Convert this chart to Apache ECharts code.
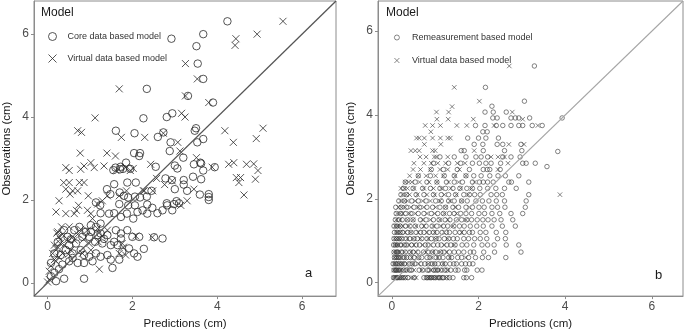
<!DOCTYPE html>
<html>
<head>
<meta charset="utf-8">
<script src="https://cdn.jsdelivr.net/npm/echarts@6/dist/echarts.min.js"></script>
<style>
  html, body { margin: 0; padding: 0; background: #fff; }
  #chart { width: 685px; height: 335px; }
</style>
</head>
<body>
<div id="chart"></div>
<script>
// axis settings
var axisMinA = -0.32, axisMaxA = 6.8;
var axisMinB = -0.32, axisMaxB = 6.72;
var tickValues = [0, 2, 4, 6];

// panel a: core data based model (circles)
var coreData = [
  [4.24,6.31],[2.92,5.89],[3.67,6.0],[3.51,5.71],[3.54,5.29],[3.67,4.92],[2.34,4.68],[3.31,4.51],[3.90,4.35],
  [2.26,3.97],[2.81,4.0],[2.94,4.09],[1.61,3.67],[2.05,3.61],[2.6,3.52],[2.73,3.63],[3.47,3.67],[3.5,3.73],
  [3.67,3.47],[3.53,3.39],[2.9,3.39],[2.04,3.13],[2.18,3.13],[2.16,3.06],[2.88,3.18],[3.2,3.02],
  [2.55,2.8],[3.0,2.83],[3.06,2.76],[3.45,2.86],[3.6,2.9],[3.62,2.88],[3.67,2.71],[3.94,2.79],
  [2.78,2.52],[2.93,2.48],[3.21,2.48],[3.21,2.37],[3.43,2.56],[3.62,2.5],[3.0,2.26],[3.29,2.22],[3.59,2.13],
  [3.8,2.14],[3.8,2.07],[3.8,2.0],[2.45,2.22],[2.34,2.08],[2.81,1.92],[2.98,1.9],[3.1,1.92],[2.35,1.89],
  [1.85,2.9],[1.72,2.8],[1.6,2.78],[1.78,2.75],[1.55,2.72],[1.95,2.75],[1.71,2.74],
  [1.57,2.38],[1.88,2.42],[2.08,2.42],[1.4,2.26],[1.48,2.14],[1.7,2.18],[1.8,2.1],[1.9,2.06],[2.06,2.08],[2.18,2.06],
  [1.69,1.9],[1.9,1.87],[2.06,1.87],[2.24,1.75],[2.35,1.67],[2.47,1.81],[2.59,1.68],[2.71,1.75],[2.82,1.87],[2.94,1.75],[3.04,1.97],
  [1.25,1.68],[1.45,1.67],[1.57,1.68],[1.73,1.59],[1.87,1.67],[2.02,1.55],[2.12,1.71],[1.14,1.94],[1.24,1.87],
  [1.02,1.39],[1.14,1.35],[1.25,1.19],[1.41,1.15],[1.61,1.27],[1.73,1.19],[1.88,1.27],[2.0,1.11],[2.16,1.11],
  [2.71,1.07],[2.51,1.1],[0.98,1.11],[0.82,1.11],[1.12,0.99],[1.29,0.95],[1.49,0.91],[1.65,0.91],[1.76,0.75],
  [1.92,0.83],[2.04,0.71],[2.27,0.82],[2.12,0.63],[0.78,0.79],[0.86,0.67],[0.98,0.63],[1.14,0.71],[1.25,0.63],
  [1.41,0.67],[1.69,0.56],[1.49,0.56],[0.59,0.6],[0.71,0.48],[0.86,0.48],[1.06,0.52],[1.53,0.36],[0.16,0.24],
  [0.2,0.04],[0.39,0.1],[0.86,0.1],[0.27,0.33],[0.35,0.44],[0.51,0.52],[0.59,0.71],[0.43,0.79],[0.31,0.67],
  [0.51,0.91],[0.67,0.95],[0.47,1.11],[0.24,0.99],[0.39,1.27],[0.63,1.27],[0.75,1.35],[0.9,1.23],[0.16,0.71],
  [0.08,0.48],[0.08,0.16],[1.25,1.43],[1.57,0.99],[1.73,1.07],[1.33,1.06],[1.02,1.23],[1.18,1.15],[0.55,1.05]
];

// panel a: virtual data based model (crosses)
var virtualDataA = [
  [5.55,6.31],[4.44,5.89],[4.94,6.0],[4.42,5.73],[3.25,5.29],[3.53,4.92],[1.69,4.68],[3.25,4.51],[3.80,4.35],
  [1.12,3.98],[3.16,4.09],[3.24,4.0],[0.71,3.67],[0.80,3.63],[1.74,3.51],[2.29,3.51],[2.73,3.61],[4.18,3.67],
  [4.38,3.39],[5.08,3.73],[4.92,3.48],[0.77,3.13],[1.40,3.13],[1.60,3.06],[3.12,3.18],[3.51,3.02],[3.07,3.39],
  [4.27,2.86],[4.39,2.9],[4.69,2.86],[4.86,2.87],[4.96,2.71],[4.45,2.54],[4.55,2.54],[4.51,2.42],[4.9,2.5],
  [4.63,2.12],[2.43,2.86],[2.57,2.52],[2.76,2.37],[2.94,2.46],[3.45,2.26],[2.48,2.22],[2.26,2.22],[3.14,1.87],
  [3.29,1.98],[3.88,2.79],
  [0.43,2.78],[0.51,2.71],[0.78,2.74],[0.86,2.82],[1.02,2.9],[1.1,2.78],[1.33,2.82],[1.61,2.71],[1.84,2.78],
  [1.95,2.71],[2.02,2.76],[0.38,2.42],[0.51,2.42],[0.75,2.42],[0.86,2.42],[0.43,2.26],[0.59,2.22],[0.71,2.22],
  [0.53,2.14],[0.27,1.98],[0.2,1.71],[0.43,1.67],[0.63,1.67],[0.73,1.87],[0.68,1.75],[0.94,1.75],[1.02,1.67],
  [0.96,2.1],[1.18,1.9],[1.29,1.98],[1.41,2.1],[1.69,2.1],[1.86,2.22],[2.28,2.22],[1.06,1.55],[0.51,1.35],
  [0.24,1.23],[0.35,1.17],[0.47,1.05],[0.3,0.95],[0.2,0.83],[0.12,0.71],[0.16,0.56],[0.08,0.41],[0.04,0.28],
  [0.04,0.08],[0.0,0.02],[0.27,1.11],[0.39,0.91],[0.59,1.11],[0.71,1.17],[0.78,1.29],[0.63,1.03],[0.55,0.79],
  [0.27,0.62],[0.35,0.71],[0.2,0.52],[0.85,1.05],[0.98,0.95],[0.94,1.27],[1.18,1.31],[1.28,1.13],[1.41,1.27],
  [1.19,0.99],[1.22,0.33],[1.76,0.95],[1.69,0.71],[1.84,0.67],[2.08,1.13],[2.47,1.1],[1.79,0.86],[0.33,1.35],
  [0.16,0.91],[0.49,0.69],[1.02,0.79],[0.82,0.71],[0.22,1.2],[0.3,1.05],[0.25,0.85]
];

// panel b: remeasurement based model (circles), rows of [observation, predictions]
var remeasRows = [
  [0.12,[0.04,0.07,0.11,0.13,0.17,0.21,0.26,0.31,0.37,0.52,0.74,0.8,0.83,0.88,0.91,0.97,1.01,1.08,1.11,1.16,1.19,1.27,1.33,1.41,1.66,1.72,1.84]],
  [0.3,[0.05,0.09,0.1,0.15,0.19,0.27,0.33,0.41,0.46,0.63,0.71,0.82,0.86,0.97,1.01,1.06,1.14,1.22,1.27,1.36,1.47,1.53,1.68,1.73,1.97,2.08]],
  [0.45,[0.03,0.08,0.12,0.17,0.23,0.29,0.39,0.47,0.53,0.67,0.76,0.84,0.93,0.99,1.07,1.17,1.23,1.34,1.43,1.49,1.61,1.7,1.79,1.87]],
  [0.6,[0.06,0.1,0.15,0.19,0.28,0.34,0.43,0.51,0.62,0.69,0.81,0.88,1.02,1.09,1.18,1.31,1.38,1.52,1.61,1.77,1.93,2.09,2.23,2.63]],
  [0.73,[0.05,0.11,0.14,0.23,0.31,0.42,0.49,0.6,0.73,0.83,0.94,1.01,1.13,1.21,1.33,1.44,1.54,1.66,1.81,1.89,2.12,2.37,2.98]],
  [0.9,[0.04,0.08,0.13,0.21,0.29,0.35,0.46,0.56,0.64,0.77,0.84,0.96,1.06,1.14,1.27,1.36,1.46,1.62,1.73,1.89,2.08,2.21,2.36,2.64,2.93]],
  [1.05,[0.05,0.11,0.17,0.23,0.33,0.41,0.51,0.59,0.69,0.81,0.91,1.02,1.09,1.21,1.31,1.42,1.51,1.66,1.77,1.91,2.04,2.19,2.44,2.62]],
  [1.2,[0.06,0.12,0.19,0.25,0.36,0.44,0.56,0.66,0.74,0.86,0.96,1.04,1.16,1.26,1.33,1.46,1.57,1.67,1.79,1.86,2.04,2.17,2.41,2.63]],
  [1.35,[0.05,0.11,0.19,0.31,0.42,0.54,0.69,0.79,0.93,1.04,1.19,1.29,1.43,1.56,1.67,1.81,1.96,2.11,2.31,2.55,2.85]],
  [1.5,[0.08,0.16,0.24,0.36,0.49,0.66,0.79,0.96,1.09,1.23,1.34,1.49,1.61,1.73,1.84,1.97,2.1,2.22,2.36,2.52,2.79]],
  [1.65,[0.1,0.21,0.31,0.44,0.61,0.74,0.91,1.06,1.19,1.33,1.44,1.59,1.71,1.84,2.01,2.14,2.31,2.49,2.75,3.02]],
  [1.8,[0.09,0.21,0.34,0.51,0.64,0.81,0.94,1.11,1.24,1.41,1.54,1.71,1.86,2.01,2.13,2.31,2.44,2.61,3.08]],
  [1.95,[0.16,0.29,0.46,0.61,0.79,1.01,1.14,1.31,1.44,1.61,1.74,1.94,2.09,2.24,2.41,2.6,3.1]],
  [2.1,[0.21,0.34,0.56,0.74,0.96,1.14,1.31,1.47,1.66,1.79,1.91,2.04,2.29,2.42,2.55,3.16]],
  [2.25,[0.26,0.49,0.71,0.89,1.11,1.24,1.41,1.57,1.73,1.86,2.03,2.21,2.4,2.6,2.87]],
  [2.4,[0.31,0.54,0.81,1.04,1.26,1.44,1.63,1.86,2.02,2.11,2.21,2.34,2.7,2.76,3.16]],
  [2.55,[0.61,0.89,1.21,1.44,1.71,1.89,2.06,2.26,2.45,2.62,2.93]],
  [2.7,[0.91,1.19,1.51,1.79,2.11,2.2,2.26,2.5]],
  [2.85,[0.96,1.31,1.59,1.86,2.02,2.17,2.29,2.51,3.02,3.1,3.31]],
  [3.0,[1.11,1.44,1.71,1.94,2.06,2.21,2.56,2.75,2.96]],
  [3.15,[1.6,1.67,2.11,2.6,3.0]],
  [3.3,[1.9,2.1,2.43,2.56,2.98]],
  [3.45,[1.75,2.0,2.17,2.46]],
  [3.6,[2.1,2.2]],
  [3.75,[1.93,2.15,2.41,2.56,2.75,2.93,3.02,3.24,3.47]],
  [3.93,[2.33,2.43,2.75,2.85,2.93,3.18,3.93]],
  [4.07,[2.15,2.34,2.64]],
  [4.21,[2.31]],
  [4.33,[3.06]],
  [4.66,[2.16]],
  [5.17,[3.29]],
  [3.13,[3.83]],
  [2.77,[3.58]]
];

// panel b: virtual data based model (crosses)
var virtualRowsB = [
  [0.12,[0.05,0.09,0.14,0.19,0.24,0.31,0.44,0.49,0.56,0.82,0.87,0.92,0.99,1.04,1.12,1.26]],
  [0.3,[0.04,0.08,0.12,0.17,0.21,0.28,0.36,0.51,0.69,0.9,1.01,1.11,1.29]],
  [0.45,[0.05,0.09,0.16,0.22,0.26,0.36,0.49,0.62,0.84,0.96,1.19]],
  [0.6,[0.06,0.11,0.16,0.21,0.31,0.46,0.59,0.91,1.06,1.34,1.71]],
  [0.73,[0.05,0.1,0.14,0.19,0.29,0.44,0.56,0.79,0.94,1.11,1.26]],
  [0.9,[0.07,0.12,0.16,0.26,0.39,0.51,0.71,0.89,1.21,1.44]],
  [1.05,[0.06,0.11,0.16,0.22,0.36,0.49,0.66,0.84,1.01,1.29]],
  [1.2,[0.1,0.14,0.2,0.31,0.44,0.61,0.81,0.99,1.21,1.61]],
  [1.35,[0.08,0.14,0.19,0.26,0.39,0.56,0.74,0.96,1.14,1.41]],
  [1.5,[0.1,0.19,0.36,0.49,0.71,0.89,1.11,1.29,1.71]],
  [1.65,[0.12,0.19,0.26,0.41,0.54,0.81,0.99,1.21,1.49]],
  [1.8,[0.15,0.22,0.31,0.44,0.61,0.74,1.01,1.24,1.46,1.79]],
  [1.95,[0.2,0.29,0.36,0.54,0.71,0.89,1.11,1.34,1.61]],
  [2.1,[0.24,0.33,0.41,0.59,0.81,0.99,1.21,1.49,1.76]],
  [2.25,[0.21,0.29,0.36,0.51,0.74,0.96,1.14,1.36,1.59,1.84]],
  [2.4,[0.31,0.39,0.46,0.64,0.86,1.04,1.31,1.54,1.91]],
  [2.55,[0.41,0.61,0.79,1.01,1.19,1.46,1.71]],
  [2.7,[0.49,0.66,0.89,1.11,1.29,1.56,2.45]],
  [2.85,[0.51,0.74,0.91,1.06,1.24,1.51,1.69,2.68]],
  [3.0,[0.65,0.79,0.98,1.03,1.29,2.29,2.45,2.6]],
  [3.15,[0.44,0.54,0.63,0.94,1.0,1.9]],
  [3.3,[0.75,1.13,2.7,3.05]],
  [3.45,[0.57,0.63,0.75,0.94,1.12,1.29,1.35]],
  [3.6,[0.9]],
  [3.75,[0.77,0.94,1.12,1.5,1.73,2.36,3.37]],
  [3.9,[1.04,1.3,1.88,3.02]],
  [4.07,[1.03,1.31,2.78]],
  [4.2,[1.39]],
  [4.33,[2.02]],
  [4.66,[1.44]],
  [5.17,[2.71]],
  [2.1,[3.88]]
];

function rowsToPoints(rows) {
  var pts = [];
  rows.forEach(function (r) {
    r[1].forEach(function (x) { pts.push([x, r[0]]); });
  });
  return pts;
}

var crossPath = 'path://M0,0L10,10M0,10L10,0';
var fontFam = '"Liberation Sans", Arial, sans-serif';

function makeAxis(idx, min, max, name, isY) {
  return {
    type: 'value', gridIndex: idx, min: min, max: max,
    name: name, nameLocation: 'middle', nameGap: isY ? 21 : 18,
    nameTextStyle: { color: '#1a1a1a', fontSize: 11.5, fontFamily: fontFam },
    axisLine: { show: true, onZero: false, lineStyle: { color: '#8c8c8c', width: 1 } },
    axisTick: { show: true, length: 3, customValues: tickValues, lineStyle: { color: '#8c8c8c' } },
    axisLabel: { customValues: tickValues, color: '#4d4d4d', fontSize: 12, margin: 5, fontFamily: fontFam },
    splitLine: { show: false }
  };
}

var legendStyleA = { color: 'rgba(0,0,0,0)', borderColor: '#2a2a2a', borderWidth: 1 };
var legendStyleB = { color: 'rgba(0,0,0,0)', borderColor: '#444', borderWidth: 0.8 };

var chart = echarts.init(document.getElementById('chart'), null, { renderer: 'canvas' });

var option = {
  animation: false,
  grid: [
    { left: 33, top: 1, width: 303, height: 299, show: true, borderColor: '#8c8c8c', borderWidth: 1 },
    { left: 378, top: 1, width: 305, height: 299, show: true, borderColor: '#8c8c8c', borderWidth: 1 }
  ],
  xAxis: [
    makeAxis(0, axisMinA, axisMaxA, 'Predictions (cm)', false),
    makeAxis(1, axisMinB, axisMaxB, 'Predictions (cm)', false)
  ],
  yAxis: [
    makeAxis(0, axisMinA, axisMaxA, 'Observations (cm)', true),
    makeAxis(1, axisMinB, axisMaxB, 'Observations (cm)', true)
  ],
  legend: [
    {
      left: 43, top: 27, orient: 'vertical', itemWidth: 20, itemHeight: 8, itemGap: 13,
      textStyle: { fontSize: 9, color: '#333', fontFamily: fontFam },
      selectedMode: false,
      data: [
        { name: 'Core data based model', icon: 'circle', itemStyle: legendStyleA },
        { name: 'Virtual data based model', icon: crossPath, itemStyle: legendStyleA }
      ]
    },
    {
      left: 389, top: 28, orient: 'vertical', itemWidth: 20, itemHeight: 5, itemGap: 14,
      textStyle: { fontSize: 9, color: '#333', fontFamily: fontFam },
      selectedMode: false,
      formatter: function (n) { return n.replace(' (b)', ''); },
      data: [
        { name: 'Remeasurement based model', icon: 'circle', itemStyle: legendStyleB },
        { name: 'Virtual data based model (b)', icon: crossPath, itemStyle: legendStyleB }
      ]
    }
  ],
  graphic: [
    { type: 'text', left: 41, top: 7, style: { text: 'Model', fontSize: 12, fill: '#1a1a1a', fontFamily: fontFam } },
    { type: 'text', left: 386, top: 7, style: { text: 'Model', fontSize: 12, fill: '#1a1a1a', fontFamily: fontFam } },
    { type: 'text', left: 305, top: 267, style: { text: 'a', fontSize: 13, fill: '#1a1a1a', fontFamily: fontFam } },
    { type: 'text', left: 655, top: 269, style: { text: 'b', fontSize: 13, fill: '#1a1a1a', fontFamily: fontFam } }
  ],
  series: [
    {
      type: 'line', xAxisIndex: 0, yAxisIndex: 0, silent: true, symbol: 'none',
      data: [[axisMinA, axisMinA], [axisMaxA, axisMaxA]],
      lineStyle: { color: '#555', width: 1.3 }
    },
    {
      type: 'line', xAxisIndex: 1, yAxisIndex: 1, silent: true, symbol: 'none',
      data: [[axisMinB, axisMinB], [axisMaxB, axisMaxB]],
      lineStyle: { color: '#a6a6a6', width: 1.1 }
    },
    {
      name: 'Core data based model', type: 'scatter', xAxisIndex: 0, yAxisIndex: 0,
      symbol: 'circle', symbolSize: 7.5, data: coreData,
      itemStyle: { color: 'rgba(0,0,0,0)', borderColor: '#2a2a2a', borderWidth: 1 }
    },
    {
      name: 'Virtual data based model', type: 'scatter', xAxisIndex: 0, yAxisIndex: 0,
      symbol: crossPath, symbolSize: 7, data: virtualDataA,
      itemStyle: { color: 'rgba(0,0,0,0)', borderColor: '#2a2a2a', borderWidth: 1 }
    },
    {
      name: 'Remeasurement based model', type: 'scatter', xAxisIndex: 1, yAxisIndex: 1,
      symbol: 'circle', symbolSize: 4.5, data: rowsToPoints(remeasRows),
      itemStyle: { color: 'rgba(0,0,0,0)', borderColor: '#3c3c3c', borderWidth: 0.8 }
    },
    {
      name: 'Virtual data based model (b)', type: 'scatter', xAxisIndex: 1, yAxisIndex: 1,
      symbol: crossPath, symbolSize: 4.5, data: rowsToPoints(virtualRowsB),
      itemStyle: { color: 'rgba(0,0,0,0)', borderColor: '#3c3c3c', borderWidth: 0.8 }
    }
  ]
};

chart.setOption(option);
</script>
</body>
</html>
